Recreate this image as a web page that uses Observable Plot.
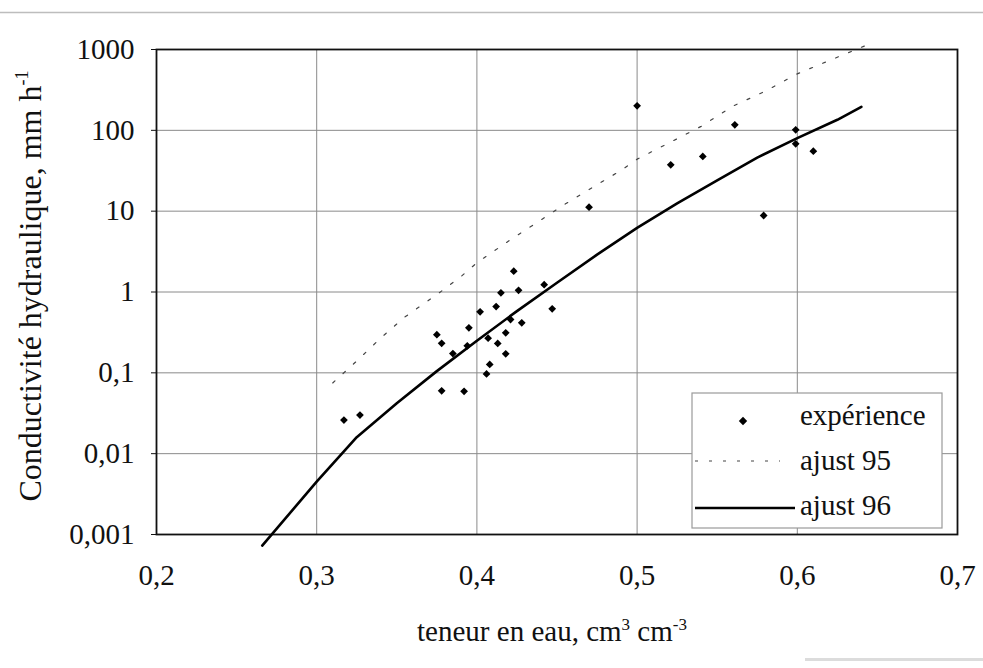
<!DOCTYPE html>
<html><head><meta charset="utf-8">
<script src="https://cdn.jsdelivr.net/npm/d3@7"></script>
<script src="https://cdn.jsdelivr.net/npm/@observablehq/plot@0.6"></script>
<style>
html,body{margin:0;padding:0;background:#fff;}
#wrap{position:relative;width:983px;height:668px;overflow:hidden;}
#wrap svg.ov{position:absolute;left:0;top:0;pointer-events:none;}
</style></head><body><div id="wrap"></div>
<script>
// ---- data ----
const expTheta = [0.317,0.327,0.375,0.378,0.378,0.385,0.392,0.394,0.395,0.402,0.406,0.408,0.407,0.412,0.413,0.415,0.418,0.418,0.421,0.423,0.426,0.428,0.442,0.447,0.470,0.500,0.521,0.541,0.561,0.579,0.599,0.599,0.610];
const expK     = [0.026,0.030,0.296,0.232,0.060,0.173,0.059,0.216,0.360,0.569,0.097,0.127,0.268,0.661,0.231,0.977,0.313,0.172,0.457,1.81,1.05,0.416,1.23,0.62,11.2,201,37.5,47.5,117,8.84,101.6,68.1,55.2];
const fit95Theta = [0.31,0.325,0.34,0.355,0.375,0.39,0.40,0.42,0.44,0.455,0.47,0.49,0.50,0.52,0.54,0.56,0.58,0.60,0.62,0.648];
const fit95K     = [0.075,0.14,0.27,0.49,0.93,1.55,2.3,4.3,7.8,12.2,18.5,32,44,70,112,200,305,500,730,1240];
const fit96Theta = [0.266,0.30,0.325,0.35,0.375,0.40,0.425,0.45,0.475,0.50,0.525,0.55,0.575,0.60,0.625,0.64];
const fit96K     = [0.00073,0.0045,0.016,0.042,0.105,0.25,0.58,1.3,2.9,6.2,12.5,24,46,80,135,195];
const xTicks = [0.2,0.3,0.4,0.5,0.6,0.7];
const xTickLabels = ["0,2","0,3","0,4","0,5","0,6","0,7"];
const yTicks = [0.001,0.01,0.1,1,10,100,1000];
const yTickLabels = ["0,001","0,01","0,1","1","10","100","1000"];
const legendLabels = ["expérience","ajust 95","ajust 96"];

const FONT = '"Liberation Serif", Tinos, "Times New Roman", serif';
const W = 983, H = 668;
const exp = expTheta.map((t,i)=>({t, k: expK[i]}));
const fit95 = fit95Theta.map((t,i)=>({t, k: fit95K[i]}));
const fit96 = fit96Theta.map((t,i)=>({t, k: fit96K[i]}));

const chart = Plot.plot({
  width: W, height: H,
  marginLeft: 156, marginRight: 26, marginTop: 49, marginBottom: 134,
  style: {fontFamily: FONT, fontSize: "29px", color: "#111", background: "transparent", overflow: "visible"},
  x: {domain: [0.2, 0.7], label: null},
  y: {type: "log", domain: [0.001, 1000], label: null},
  marks: [
    Plot.gridX(xTicks.slice(1, -1), {stroke: "#8a8a8a", strokeOpacity: 1, strokeWidth: 1}),
    Plot.gridY(yTicks.slice(1, -1), {stroke: "#8a8a8a", strokeOpacity: 1, strokeWidth: 1}),
    Plot.axisX(xTicks, {tickFormat: d => xTickLabels[xTicks.indexOf(d)], tickSize: 0, tickPadding: 30, fontSize: 29, label: null}),
    Plot.axisY(yTicks, {tickFormat: d => yTickLabels[yTicks.indexOf(d)], tickSize: 5, tickPadding: 17, fontSize: 29, label: null}),
    Plot.frame({stroke: "#111", strokeWidth: 1.8}),
    Plot.line(fit95, {x: "t", y: "k", stroke: "#444", strokeWidth: 1.2, strokeDasharray: "3,11"}),
    Plot.line(fit96, {x: "t", y: "k", stroke: "#000", strokeWidth: 2.6}),
    Plot.dot(exp, {x: "t", y: "k", symbol: "diamond2", fill: "#000", stroke: null, r: 3.5})
  ]
});
const wrap = document.getElementById("wrap");
wrap.appendChild(chart);

// ---- overlay: titles, legend, scan rules ----
const ov = d3.select(wrap).append("svg").attr("class","ov").attr("width",W).attr("height",H)
  .style("font-family", FONT).attr("fill","#111");
ov.append("line").attr("x1",0).attr("x2",W).attr("y1",12.5).attr("y2",12.5).attr("stroke","#bdbdbd").attr("stroke-width",1.5);
ov.append("rect").attr("x",805).attr("y",658).attr("width",178).attr("height",3).attr("fill","#dcdcdc");

// x title
const xt = ov.append("text").attr("x",552).attr("y",641).attr("text-anchor","middle").attr("font-size",29);
xt.append("tspan").text("teneur en eau, cm");
xt.append("tspan").attr("font-size",17).attr("dy",-11).text("3");
xt.append("tspan").attr("dy",11).text(" cm");
xt.append("tspan").attr("font-size",17).attr("dy",-11).text("-3");

// y title
const yt = ov.append("text").attr("transform","translate(41,286) rotate(-90)").attr("text-anchor","middle").attr("font-size",32);
yt.append("tspan").text("Conductivité hydraulique, mm h");
yt.append("tspan").attr("font-size",18).attr("dy",-13).text("-1");

// legend
const lg = ov.append("g").attr("transform","translate(692,393)");
lg.append("rect").attr("width",250).attr("height",135).attr("fill","#fff").attr("stroke","#9a9a9a").attr("stroke-width",1.2);
lg.append("path").attr("d", d3.symbol(d3.symbolDiamond2, 45)()).attr("transform","translate(51,28)").attr("fill","#000");
lg.append("line").attr("x1",3).attr("x2",88).attr("y1",68).attr("y2",68).attr("stroke","#444").attr("stroke-width",1.2).attr("stroke-dasharray","3,11");
lg.append("line").attr("x1",3).attr("x2",103).attr("y1",115).attr("y2",115).attr("stroke","#000").attr("stroke-width",2.6);
legendLabels.forEach((s,i)=>{
  lg.append("text").attr("x",108).attr("y",32 + i*45).attr("font-size",29).text(s);
});
</script></body></html>
